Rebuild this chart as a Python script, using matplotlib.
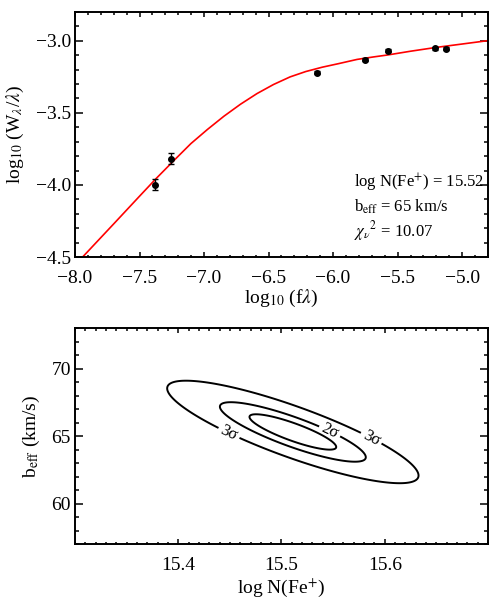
import numpy as np
import matplotlib
matplotlib.use("Agg")
import matplotlib.pyplot as plt
from matplotlib.ticker import MultipleLocator, FixedLocator

plt.rcParams['font.family'] = ['Liberation Serif', 'DejaVu Serif']
plt.rcParams['mathtext.fontset'] = 'stix'

# measured lines: log10(f lambda) vs log10(W/lambda)
log_flam = [-7.379, -7.256, -6.128, -5.751, -5.577, -5.213, -5.123]
log_w = [-3.998, -3.817, -3.222, -3.130, -3.069, -3.053, -3.056]
log_w_err = [0.04, 0.04, 0.01, 0.01, 0.01, 0.01, 0.01]

# best-fit curve of growth
cog_x = [-7.941, -7.7, -7.5, -7.372, -7.231, -7.102, -6.974, -6.846, -6.718,
         -6.590, -6.462, -6.333, -6.212, -6.085, -5.957, -5.815, -5.690,
         -5.577, -5.400, -5.205, -5.000, -4.813]
cog_y = [-4.5, -4.270, -4.078, -3.956, -3.828, -3.713, -3.615, -3.523, -3.440,
         -3.366, -3.303, -3.250, -3.213, -3.183, -3.158, -3.129, -3.112,
         -3.098, -3.072, -3.046, -3.022, -3.0]

fit_text = [r'log N(Fe$^{+}$) = 15.52',
            r'b$_{\rm eff}$ = 65 km/s',
            r'$\chi_{\nu}{}^{2}$ = 10.07']

# delta chi2 surface for (log N, b_eff)
best_logN = 15.511
best_b = 65.3
sig_logN = 0.042
sig_b = 1.31
rho = -0.85
dchi2_levels = [1.0, 2.83, 8.4]
level_names = ['1σ', '2σ', '3σ']
logN_ticks = [15.4, 15.5, 15.6]

fig = plt.figure(figsize=(4.98, 5.98), dpi=100)

# ---- top panel
ax1 = fig.add_axes([0.1506, 0.5702, 0.8293, 0.4097])
ax1.plot(cog_x, cog_y, color='red', lw=1.2, zorder=2)
ax1.errorbar(log_flam, log_w, yerr=log_w_err, fmt='o', ms=4, color='black',
             ecolor='black', elinewidth=1.0, capsize=2, capthick=1.0, zorder=3)
ax1.set_xlim(-8.0, -4.8)
ax1.set_ylim(-4.5, -2.8)
ax1.xaxis.set_major_locator(MultipleLocator(0.5))
ax1.xaxis.set_minor_locator(MultipleLocator(0.1))
ax1.yaxis.set_major_locator(MultipleLocator(0.5))
ax1.yaxis.set_minor_locator(MultipleLocator(0.1))
ax1.set_xlabel(r'log$_{10}$ (f$\lambda$)', fontsize=14, labelpad=1)
ax1.set_ylabel(r'log$_{10}$ (W$_{\lambda}$/$\lambda$)', fontsize=14, labelpad=7)
for i, t in enumerate(fit_text):
    ax1.text(0.675, 0.305 - i * 0.1, t, transform=ax1.transAxes, fontsize=12,
             va='center', ha='left')

# ---- bottom panel
ax2 = fig.add_axes([0.1506, 0.0903, 0.8293, 0.3612])
nn = np.linspace(15.3, 15.7, 500)
bb = np.linspace(57, 73, 500)
NN, BB = np.meshgrid(nn, bb)
u = (NN - best_logN) / sig_logN
v = (BB - best_b) / sig_b
dchi2 = (u ** 2 - 2 * rho * u * v + v ** 2) / (1 - rho ** 2)
# innermost contour has no label
ax2.contour(NN, BB, dchi2, levels=dchi2_levels[:1], colors='black',
            linewidths=1.4)
cs = ax2.contour(NN, BB, dchi2, levels=dchi2_levels[1:], colors='black',
                 linewidths=1.4)
fmt = {lev: name for lev, name in zip(cs.levels, level_names[1:])}
ax2.clabel(cs, fmt=fmt, fontsize=12, inline=True, inline_spacing=3,
           manual=[(15.449, 65.2), (15.547, 65.4), (15.588, 65.0)])
ax2.set_xlim(15.3, 15.7)
ax2.set_ylim(57, 73)
ax2.xaxis.set_major_locator(FixedLocator(logN_ticks))
ax2.xaxis.set_minor_locator(MultipleLocator(0.01))
ax2.yaxis.set_major_locator(MultipleLocator(5))
ax2.yaxis.set_minor_locator(MultipleLocator(1))
ax2.set_xlabel(r'log N(Fe$^{+}$)', fontsize=14, labelpad=2)
ax2.set_ylabel(r'b$_{\rm eff}$ (km/s)', fontsize=14, labelpad=7)

for ax in (ax1, ax2):
    for sp in ax.spines.values():
        sp.set_linewidth(1.4)
    ax.tick_params(which='both', direction='in', top=True, right=True,
                   labelsize=14, width=1.1)
    ax.tick_params(axis='x', which='major', length=3.6, pad=9)
    ax.tick_params(axis='x', which='minor', length=1.8)
    ax.tick_params(axis='y', which='major', length=6, pad=3)
    ax.tick_params(axis='y', which='minor', length=3)

fig.savefig('out.png', dpi=100)
